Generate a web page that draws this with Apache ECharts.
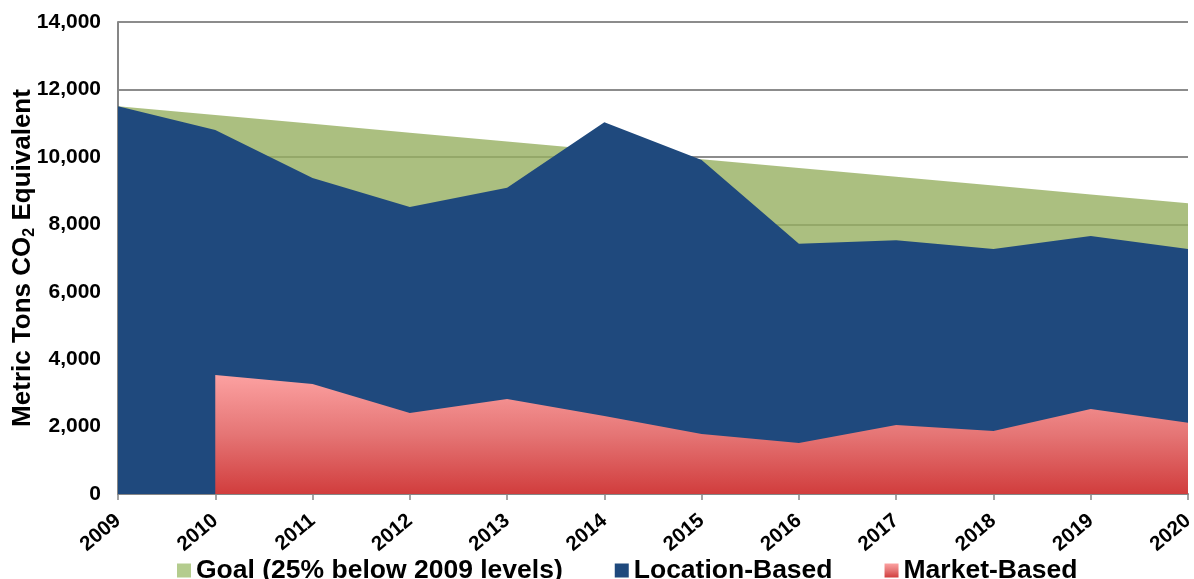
<!DOCTYPE html>
<html>
<head>
<meta charset="utf-8">
<script src="https://cdn.jsdelivr.net/npm/echarts@6/dist/echarts.min.js"></script>
<style>
  html, body { margin: 0; padding: 0; background: #fff; }
  #chart { width: 1194px; height: 579px; }
</style>
</head>
<body>
<div id="chart"></div>
<script>
// Fiscal years on the category axis
const years = ['2009', '2010', '2011', '2012', '2013', '2014', '2015', '2016', '2017', '2018', '2019', '2020'];

// Emissions goal: 25% below the 2009 baseline by 2020
const goalValues = [11500, 11240, 10980, 10715, 10455, 10195, 9930, 9670, 9410, 9150, 8885, 8625];

// Location-based emissions
const locationValues = [11500, 10800, 9370, 8510, 9080, 11030, 9910, 7420, 7530, 7270, 7650, 7270];

// Market-based emissions (not reported for 2009)
const marketValues = [null, 3530, 3260, 2400, 2820, 2310, 1780, 1510, 2050, 1870, 2520, 2110];

// Value axis ticks
const yTicks = { min: 0, max: 14000, interval: 2000 };

const FONT = 'Liberation Sans, Arial, sans-serif';

const chart = echarts.init(document.getElementById('chart'), null, { renderer: 'canvas' });

const marketGradient = new echarts.graphic.LinearGradient(0, 0, 0, 1, [
  { offset: 0, color: '#fca1a1' },
  { offset: 0.5, color: '#e57575' },
  { offset: 1, color: '#d13d3d' }
], false);

chart.setOption({
  animation: false,
  backgroundColor: '#ffffff',
  grid: { left: 118, right: 6, top: 22, bottom: 85, containLabel: false, outerBoundsMode: 'none' },
  legend: {
    top: 552,
    left: 172,
    itemWidth: 14,
    itemHeight: 14,
    itemGap: 52,
    icon: 'rect',
    textStyle: { fontFamily: FONT, fontWeight: 'bold', fontSize: 26.5, color: '#000' },
    data: [
      { name: 'Goal (25% below 2009 levels)', itemStyle: { color: '#b4cc8e' } },
      { name: 'Location-Based', itemStyle: { color: '#1f497d' } },
      { name: 'Market-Based', itemStyle: { color: marketGradient } }
    ]
  },
  xAxis: {
    type: 'category',
    data: years,
    boundaryGap: false,
    axisLine: { show: true, lineStyle: { color: '#868686', width: 2 } },
    axisTick: { show: true, length: 6, lineStyle: { color: '#868686', width: 1.5 } },
    axisLabel: {
      rotate: 40,
      margin: 24,
      fontFamily: FONT,
      fontWeight: 'bold',
      fontSize: 20.5,
      color: '#000'
    },
    splitLine: { show: false }
  },
  yAxis: {
    type: 'value',
    min: yTicks.min,
    max: yTicks.max,
    interval: yTicks.interval,
    name: 'Metric Tons CO{sub|2} Equivalent',
    nameLocation: 'middle',
    nameGap: 80,
    nameRotate: 90,
    nameMoveOverlap: false,
    nameTextStyle: {
      fontFamily: FONT,
      fontWeight: 'bold',
      fontSize: 26,
      color: '#000',
      rich: {
        sub: { fontFamily: FONT, fontWeight: 'bold', fontSize: 16, color: '#000', padding: [14, 0, 0, 0] }
      }
    },
    axisLine: { show: true, lineStyle: { color: '#868686', width: 2 } },
    axisTick: { show: false },
    axisLabel: {
      margin: 17,
      fontFamily: FONT,
      fontWeight: 'bold',
      fontSize: 21,
      color: '#000',
      formatter: v => v.toLocaleString('en-US')
    },
    splitLine: { show: true, lineStyle: { color: '#8c8c8c', width: 2 } }
  },
  series: [
    {
      name: 'Goal (25% below 2009 levels)',
      type: 'line',
      data: goalValues,
      symbol: 'none',
      lineStyle: { width: 0 },
      itemStyle: { color: '#b4cc8e' },
      areaStyle: { color: 'rgb(150,175,96)', opacity: 0.8 },
      z: 2
    },
    {
      name: 'Location-Based',
      type: 'line',
      data: locationValues,
      symbol: 'none',
      lineStyle: { width: 0 },
      itemStyle: { color: '#1f497d' },
      areaStyle: { color: '#1f497d', opacity: 1 },
      z: 3
    },
    {
      name: 'Market-Based',
      type: 'line',
      data: marketValues,
      connectNulls: false,
      symbol: 'none',
      lineStyle: { width: 0 },
      itemStyle: { color: marketGradient },
      areaStyle: { color: marketGradient, opacity: 1 },
      z: 4
    }
  ]
});
</script>
</body>
</html>
